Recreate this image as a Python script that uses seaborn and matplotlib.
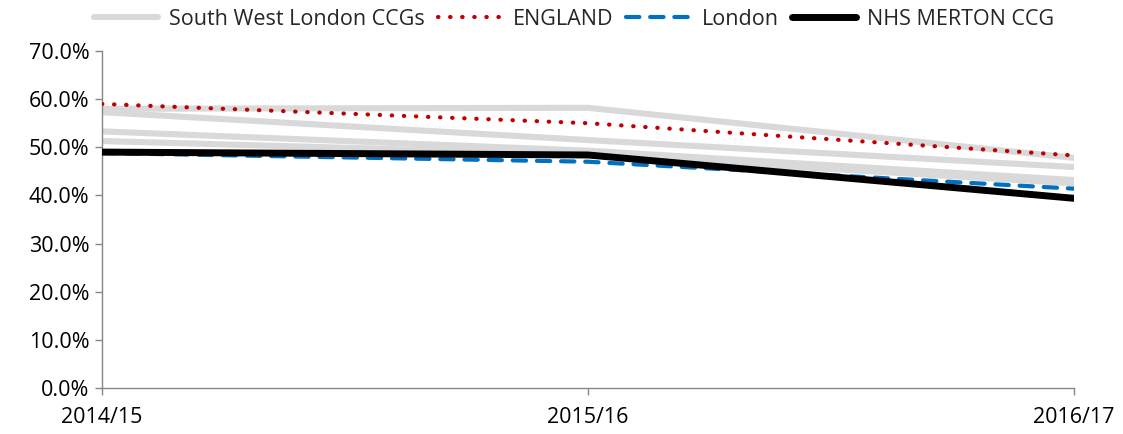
import matplotlib
matplotlib.use("Agg")
import matplotlib.pyplot as plt
from matplotlib.ticker import FuncFormatter
import pandas as pd
import seaborn as sns

years = ["2014/15", "2015/16", "2016/17"]

# Other South West London CCGs (drawn in grey, one legend entry)
swl_ccgs = {
    "Croydon": [58.0, 58.2, 47.8],
    "Kingston": [57.3, 51.5, 45.9],
    "Richmond": [53.3, 49.3, 43.2],
    "Sutton": [51.3, 48.5, 42.5],
}
england = [59.0, 55.0, 48.3]
london = [48.8, 47.0, 41.4]
merton = [49.0, 48.4, 39.4]

sns.set_theme(style="white")
plt.rcParams["font.family"] = ["Open Sans", "DejaVu Sans"]
FS = 15.5

fig = plt.figure(figsize=(11.23, 4.34), dpi=100)
ax = fig.add_axes([0.0908, 0.106, 0.8656, 0.7765])

def frame(values):
    return pd.DataFrame({"x": range(len(years)), "y": values})

first = True
for name, vals in swl_ccgs.items():
    sns.lineplot(data=frame(vals), x="x", y="y", ax=ax, color="#D9D9D9",
                 lw=4.4, solid_capstyle="round", zorder=1,
                 label="South West London CCGs" if first else "_nolegend_")
    first = False

sns.lineplot(data=frame(england), x="x", y="y", ax=ax, color="#C00000",
             lw=3.0, linestyle=(0, (0.1, 2.8)), dash_capstyle="round",
             zorder=3, label="ENGLAND")
sns.lineplot(data=frame(london), x="x", y="y", ax=ax, color="#0070C0",
             lw=3.0, linestyle=(0, (3.2, 2.6)), dash_capstyle="round",
             zorder=2, label="London")
sns.lineplot(data=frame(merton), x="x", y="y", ax=ax, color="black",
             lw=5.0, solid_capstyle="round", zorder=4, label="NHS MERTON CCG")

ax.set_xlim(0, len(years) - 1)
ax.set_ylim(0, 70)
ax.set_yticks(range(0, 71, 10))
ax.yaxis.set_major_formatter(FuncFormatter(lambda v, p: f"{v:.1f}%"))
ax.set_xticks(range(len(years)))
ax.set_xticklabels(years)
ax.set_xlabel("")
ax.set_ylabel("")

for side in ("top", "right"):
    ax.spines[side].set_visible(False)
for side in ("left", "bottom"):
    ax.spines[side].set_color("#868686")
    ax.spines[side].set_linewidth(1.0)

ax.tick_params(axis="both", which="major", labelsize=FS, colors="#868686",
               labelcolor="black", direction="out", length=5, width=1.0,
               left=True, bottom=True)
ax.tick_params(axis="x", pad=9)
ax.tick_params(axis="y", pad=4)

handles, labels = ax.get_legend_handles_labels()
ax.get_legend().remove()
fig.legend(handles, labels, loc="upper center", bbox_to_anchor=(0.511, 1.025),
           ncol=4, frameon=False, fontsize=FS, handlelength=3.0,
           handletextpad=0.5, columnspacing=0.6)

fig.savefig("out.png", dpi=100)
